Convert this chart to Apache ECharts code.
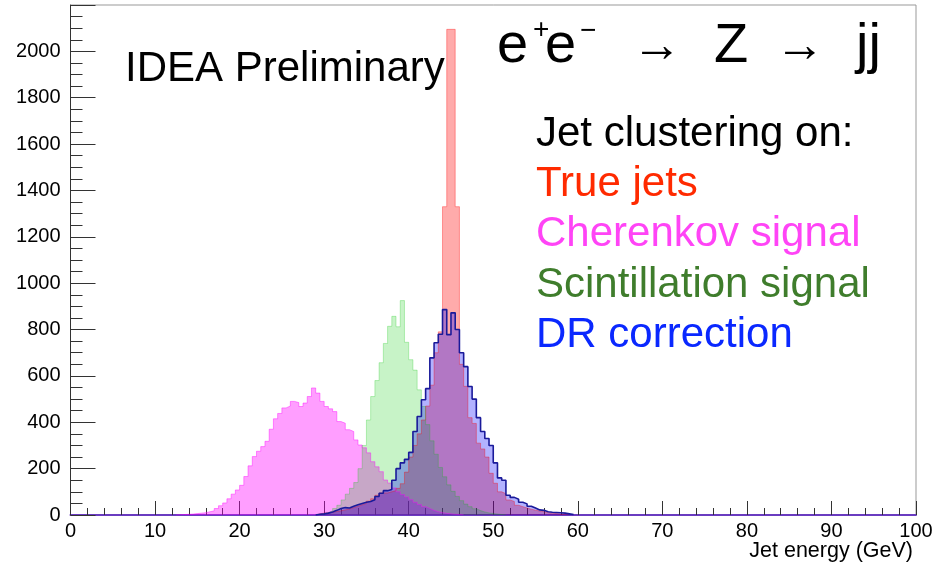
<!DOCTYPE html>
<html>
<head>
<meta charset="utf-8">
<script src="https://cdn.jsdelivr.net/npm/echarts@6/dist/echarts.min.js"></script>
<style>html,body{margin:0;padding:0;background:#fff}#c{width:936px;height:564px}</style>
</head>
<body>
<div id="c"></div>
<script>
// ---- data (bin width 0.5 GeV) ----
const BIN = 0.5;
const xTicks = [0, 10, 20, 30, 40, 50, 60, 70, 80, 90, 100];
const yTicks = [0, 200, 400, 600, 800, 1000, 1200, 1400, 1600, 1800, 2000];

const trueStart = 29.0;
const trueJets = [5, 8, 10, 12, 15, 18, 22, 26, 32, 38, 44, 50, 60, 70, 85, 95, 95, 100, 105, 115,
  135, 185, 250, 300, 350, 410, 470, 560, 700, 790, 1330, 2095, 2095, 1330, 650, 555, 420, 395, 310, 285,
  250, 180, 137, 100, 92, 65, 58, 42, 36, 30, 25, 21, 17, 14, 10, 8, 6, 4, 3, 2];

const cherStart = 12.5;
const cherenkov = [1, 2, 3, 4, 6, 8, 10, 14, 18, 28, 40, 52, 70, 90, 108, 128, 166, 212, 252, 275,
  295, 318, 370, 415, 438, 462, 470, 490, 485, 468, 483, 511, 548, 526, 490, 468, 458, 446, 403, 396,
  368, 360, 324, 302, 290, 268, 230, 208, 187, 151, 138, 117, 100, 88, 78, 66, 55, 45, 36, 28,
  20, 14, 10, 7, 5, 3, 2, 1];

const scintStart = 29.5;
const scintillation = [5, 10, 18, 28, 42, 65, 90, 115, 140, 200, 300, 410, 511, 580, 657, 740, 814, 857, 812, 925,
  745, 670, 625, 540, 468, 390, 320, 262, 205, 165, 130, 102, 80, 62, 47, 36, 27, 19, 13, 9,
  6, 4, 2, 1];

const drStart = 29.0;
const drCorrection = [3, 5, 8, 13, 20, 28, 32, 30, 38, 44, 50, 55, 58, 66, 80, 94, 105, 110, 150, 200,
  225, 240, 270, 360, 425, 497, 545, 678, 743, 780, 886, 778, 872, 800, 700, 640, 554, 500, 420, 360,
  330, 300, 225, 160, 150, 85, 76, 68, 55, 48, 38, 30, 22, 20, 14, 12, 11, 10, 8, 5, 2];

function hist(start, vals) {
  const pts = [[start, 0]];
  vals.forEach((v, i) => pts.push([start + i * BIN, v]));
  pts.push([start + vals.length * BIN, 0]);
  return pts;
}

const FONT = 'Liberation Sans, Arial, Helvetica, sans-serif';
const chart = echarts.init(document.getElementById('c'), null, {renderer: 'canvas'});

function series(name, start, vals, fill, line, lw) {
  return {
    name: name, type: 'line', step: 'end', symbol: 'none', silent: true,
    data: hist(start, vals),
    lineStyle: {color: line, width: lw},
    areaStyle: {color: fill, opacity: 1}
  };
}

const t = (txt, x, y, size, color, align) => ({
  type: 'text', x: x, y: y, silent: true,
  style: {text: txt, font: size + 'px ' + FONT, fill: color, textAlign: align || 'left', textVerticalAlign: 'middle'}
});

chart.setOption({
  animation: false,
  backgroundColor: '#fff',
  grid: {left: 70.5, right: 20, top: 5, bottom: 49, show: true, borderColor: '#999', borderWidth: 1, backgroundColor: 'transparent'},
  xAxis: {
    type: 'value', min: xTicks[0], max: xTicks[xTicks.length - 1], interval: 10,
    axisLine: {show: true, onZero: false, lineStyle: {color: '#6a3cc0', width: 2}},
    axisTick: {show: true, inside: true, length: 14, lineStyle: {color: '#333', width: 1}},
    minorTick: {show: true, splitNumber: 5, length: 7, lineStyle: {color: '#333', width: 1}},
    axisLabel: {fontFamily: FONT, fontSize: 20, color: '#000', margin: 6,
      formatter: v => xTicks.includes(v) ? String(v) : ''},
    splitLine: {show: false}
  },
  yAxis: {
    type: 'value', min: yTicks[0], max: 2200, interval: 200,
    axisLine: {show: true, lineStyle: {color: '#333', width: 1}},
    axisTick: {show: true, inside: true, length: 25, lineStyle: {color: '#333', width: 1}},
    minorTick: {show: true, splitNumber: 4, length: 12, lineStyle: {color: '#333', width: 1}},
    axisLabel: {fontFamily: FONT, fontSize: 20, color: '#000', margin: 10, showMaxLabel: false,
      formatter: v => yTicks.includes(v) ? String(v) : ''},
    splitLine: {show: false}
  },
  series: [
    series('True jets', trueStart, trueJets, 'rgba(255,0,0,0.33)', 'rgba(255,0,0,0.35)', 1),
    series('Cherenkov signal', cherStart, cherenkov, 'rgba(255,0,255,0.38)', 'rgba(255,0,255,0.42)', 1),
    series('Scintillation signal', scintStart, scintillation, 'rgba(0,200,0,0.22)', 'rgba(0,200,0,0.25)', 1),
    series('DR correction', drStart, drCorrection, 'rgba(0,0,255,0.3)', '#1a1a9a', 1.6)
  ],
  graphic: [
    t('IDEA Preliminary', 125, 69, 42, '#000'),
    t('e', 497, 47, 56, '#000'),
    t('+', 533, 30, 28, '#000'),
    t('e', 545, 47, 56, '#000'),
    t('\u2212', 580, 31, 28, '#000'),
    t('\u2192', 632, 47, 50, '#000'),
    t('Z', 714, 47, 56, '#000'),
    t('\u2192', 775, 47, 50, '#000'),
    t('jj', 856, 47, 56, '#000'),
    t('Jet clustering on:', 536, 134, 42, '#000'),
    t('True jets', 536, 184, 42, '#ff2a00'),
    t('Cherenkov signal', 536, 234, 42, '#ff44f6'),
    t('Scintillation signal', 536, 285, 42, '#3f7d2c'),
    t('DR correction', 536, 335, 42, '#0a28ff'),
    t('Jet energy (GeV)', 913, 551, 21.5, '#000', 'right')
  ]
});
</script>
</body>
</html>
